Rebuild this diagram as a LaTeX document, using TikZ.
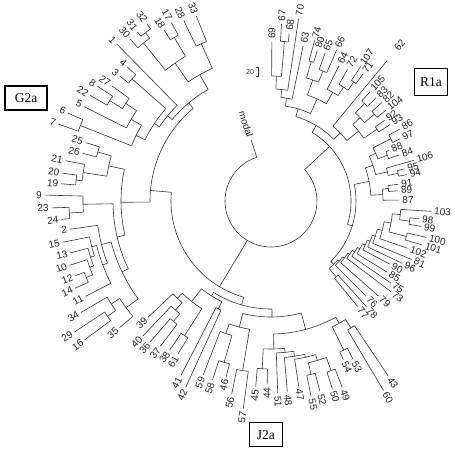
\documentclass[tikz,border=0pt]{standalone}
\usepackage{fontspec}
\setmainfont{Liberation Serif}
\newfontfamily\lblfont{Liberation Sans}
\tikzset{
  br/.style={draw=black!80, line width=0.6pt},
  lab/.style={font=\lblfont\fontsize{10}{10}\selectfont, inner sep=0pt, text=black!85},
  grp/.style={draw=black, line width=1.3pt, font=\fontsize{13.5}{14}\selectfont, inner sep=0pt, minimum height=24pt}
}
\newcommand\nd[5]{%
  \draw[br] (#1:#2pt) -- (#1:#3pt);
  \draw[br] (#4:#3pt) arc[start angle=#4, end angle=#5, radius=#3pt];}
\newcommand\lR[5]{%
  \pgfmathsetmacro\lftip{#3-2.8*#5-3}%
  \draw[br] (#1:#2pt) -- (#1:\lftip pt);
  \node[lab, rotate=#1] (n#4) at (#1:#3pt) {#4};}
\newcommand\lL[5]{%
  \pgfmathsetmacro\lftip{#3-2.8*#5-3}%
  \draw[br] (#1:#2pt) -- (#1:\lftip pt);
  \node[lab, rotate=#1-180] (n#4) at (#1:#3pt) {#4};}
\begin{document}
\begin{tikzpicture}[x=1pt,y=1pt]
\useasboundingbox (0,0) rectangle (455,450);
\fill[white] (0,0) rectangle (455,450);
\node[grp, minimum width=42pt] (g2a) at (26,352) {G2a};
\node[grp, minimum width=33pt, minimum height=27pt] (r1a) at (431,368.3) {R1a};
\node[grp, minimum width=33pt] (j2a) at (265.8,15.3) {J2a};
\begin{scope}[shift={(271,249)}]
% root
\draw[br] (108:46pt) arc[start angle=108, end angle=403, radius=46pt];
\draw[br] (108:46pt) -- (108:64pt);
\node[lab, rotate=-72] (modal) at (108:81pt) {modal};
% ---------- G2a + J2a ----------
\nd{239}{46}{100}{175}{254.2}
\nd{175}{100}{121}{130}{180.5}
\nd{130}{121}{128}{119.4}{140.5}
\nd{119.4}{128}{145}{113.9}{124.8}
\nd{113.9}{145}{172}{112}{115.8}
\lL{112}{172}{208}{33}{2}
\lL{115.8}{172}{209}{28}{2}
\nd{124.8}{145}{168}{120.6}{128.9}
\nd{120.6}{168}{190}{119.2}{122}
\lL{119.2}{190}{213}{17}{2}
\lL{122}{190}{210}{18}{2}
\nd{128.9}{168}{203}{126.7}{131}
\lL{131}{203}{223}{30}{2}
\nd{126.7}{203}{210}{125}{128.3}
\lL{125}{210}{225}{32}{2}
\lL{128.3}{210}{224}{31}{2}
\nd{140.5}{128}{134}{134.5}{146.4}
\lL{134.5}{134}{226}{1}{1}
\nd{146.4}{134}{140}{138.7}{154.1}
\nd{138.7}{140}{185}{137}{140.4}
\lL{137}{185}{202}{4}{1}
\lL{140.4}{185}{202}{3}{1}
\nd{154.1}{140}{150}{149.7}{158.4}
\nd{149.7}{150}{162}{146.1}{153.2}
\lL{153.2}{162}{215}{5}{1}
\nd{146.1}{162}{175}{144.1}{148.1}
\lL{144.1}{175}{205}{27}{2}
\nd{148.1}{175}{190}{146.5}{149.7}
\lL{146.5}{190}{214}{8}{1}
\lL{149.7}{190}{218}{22}{2}
\nd{158.4}{150}{205}{156.6}{160.1}
\lL{156.6}{205}{227}{6}{1}
\lL{160.1}{205}{232}{7}{1}
\nd{180.5}{121}{150}{167.8}{193.2}
\nd{167.8}{150}{166}{164.2}{171.4}
\nd{164.2}{166}{180}{162.5}{165.8}
\lL{162.5}{180}{203}{25}{2}
\lL{165.8}{180}{203}{26}{2}
\nd{171.4}{166}{190}{168.9}{173.9}
\lL{168.9}{190}{218}{21}{2}
\nd{173.9}{190}{196}{172.4}{175.3}
\lL{172.4}{196}{219}{20}{2}
\lL{175.3}{196}{219}{19}{2}
\nd{193.2}{150}{158}{181}{205.4}
\nd{181}{158}{188}{178.5}{183.4}
\lL{178.5}{188}{232}{9}{1}
\nd{183.4}{188}{202}{181.8}{185}
\lL{181.8}{202}{228}{23}{2}
\lL{185}{202}{219}{24}{2}
\nd{205.4}{158}{165}{194.4}{216.4}
\nd{194.4}{165}{175}{188}{200.8}
\lL{188}{175}{209}{2}{1}
\nd{200.8}{175}{180}{194.3}{207.2}
\lL{207.2}{180}{217}{11}{2}
\nd{194.3}{180}{185}{191.2}{197.3}
\lL{191.2}{185}{221}{15}{2}
\nd{197.3}{185}{189}{194.5}{200.1}
\lL{194.5}{189}{216}{13}{2}
\nd{200.1}{189}{193}{197.7}{202.5}
\lL{197.7}{193}{220}{10}{2}
\nd{202.5}{193}{200}{200.9}{204}
\lL{200.9}{200}{218}{12}{2}
\lL{204}{200}{223}{14}{2}
\nd{216.4}{165}{180}{212.8}{219.9}
\lL{219.9}{180}{206}{35}{2}
\nd{212.8}{180}{190}{210.4}{215.2}
\lL{210.4}{190}{229}{34}{2}
\nd{215.2}{190}{200}{213.7}{216.7}
\lL{213.7}{200}{245}{29}{2}
\lL{216.7}{200}{241}{16}{2}
% J side
\nd{254.2}{100}{108}{237.9}{270.5}
\nd{237.9}{108}{112}{231.7}{244}
\nd{231.7}{112}{128}{226.1}{237.3}
\nd{226.1}{128}{135}{223.4}{228.8}
\lL{223.4}{135}{178}{39}{2}
\nd{228.8}{135}{145}{226.5}{231}
\lL{226.5}{145}{195}{40}{2}
\nd{231}{145}{155}{229.4}{232.7}
\lL{229.4}{155}{194}{36}{2}
\lL{232.7}{155}{191}{37}{2}
\nd{237.3}{128}{160}{235.8}{238.7}
\lL{235.8}{160}{189}{38}{2}
\lL{238.7}{160}{188}{61}{2}
\nd{244}{112}{120}{242.7}{245.4}
\lL{242.7}{120}{205}{41}{2}
\lL{245.4}{120}{213}{42}{2}
\nd{270.5}{108}{116}{255.9}{285.1}
\nd{255.9}{116}{130}{251.2}{260.5}
\nd{251.2}{130}{140}{248.7}{253.8}
\lL{248.7}{140}{195}{59}{2}
\nd{253.8}{140}{168}{251.9}{255.7}
\lL{251.9}{168}{197}{58}{2}
\lL{255.7}{168}{190}{46}{2}
\nd{260.5}{130}{172}{258.5}{262.4}
\lL{258.5}{172}{206}{56}{2}
\lL{262.4}{172}{218}{57}{2}
\nd{285.1}{116}{133}{271.1}{299.1}
\nd{271.1}{133}{148}{267}{275.3}
\nd{267}{148}{168}{265.3}{268.8}
\lL{265.3}{168}{195}{45}{2}
\lL{268.8}{168}{192}{44}{2}
\nd{275.3}{148}{152}{272}{278.6}
\lR{272}{152}{201}{51}{2}
\nd{278.6}{152}{157}{274.9}{282.4}
\lR{274.9}{157}{200}{48}{2}
\nd{282.4}{157}{160}{278.5}{286.2}
\lR{278.5}{160}{196}{47}{2}
\nd{286.2}{160}{166}{283}{289.5}
\nd{283}{166}{178}{281.6}{284.4}
\lR{281.6}{178}{208}{55}{2}
\lR{284.4}{178}{205}{52}{2}
\nd{289.5}{166}{180}{288.1}{290.9}
\lR{288.1}{180}{206}{50}{2}
\lR{290.9}{180}{208}{49}{2}
\nd{299.1}{133}{140}{296}{302.2}
\nd{296}{140}{166}{294.5}{297.4}
\lR{294.5}{166}{183}{54}{2}
\lR{297.4}{166}{187}{53}{2}
\nd{302.2}{140}{150}{300.7}{303.8}
\lR{300.7}{150}{229}{60}{2}
\lR{303.8}{150}{219}{43}{2}
% ---------- R1a ----------
\nd{43}{46}{80}{-17}{59.1}
\nd{59.1}{80}{88}{44.5}{73.6}
\nd{73.6}{88}{96}{65.7}{81.4}
\nd{81.4}{96}{104}{78.3}{84.5}
\lR{78.3}{104}{167}{63}{2}
\nd{84.5}{104}{112}{81.4}{87.5}
\lR{81.4}{112}{193}{70}{2}
\nd{87.5}{112}{125}{85.2}{89.7}
\lR{89.7}{125}{168}{69}{2}
\nd{85.2}{125}{160}{83.8}{86.6}
\lR{83.8}{160}{177}{68}{2}
\lR{86.6}{160}{186}{67}{2}
\nd{65.7}{96}{112}{60.4}{71}
\nd{71}{112}{128}{68.2}{73.9}
\nd{73.9}{128}{145}{72.9}{74.8}
\lR{72.9}{145}{166}{80}{2}
\lR{74.8}{145}{175}{74}{2}
\nd{68.2}{128}{140}{66.5}{69.9}
\lR{66.5}{140}{173}{66}{2}
\lR{69.9}{140}{166}{65}{2}
\nd{60.4}{112}{125}{57.5}{63.3}
\lR{63.3}{125}{160}{64}{2}
\nd{57.5}{125}{135}{55.2}{59.8}
\lR{59.8}{135}{161}{72}{2}
\nd{55.2}{135}{145}{54.1}{56.3}
\lR{54.1}{145}{165}{71}{2}
\lR{56.3}{145}{173}{107}{3}
\nd{44.5}{88}{97}{38.6}{50.4}
\draw[br] (50.4:97pt) -- (50.4:182pt);
\node[lab, rotate=50.4] (n62) at (50.4:202pt) {62};
\nd{38.6}{97}{112}{34.1}{43.1}
\nd{43.1}{112}{122}{40}{46.2}
\nd{46.2}{122}{135}{44.5}{47.8}
\lR{44.5}{135}{156}{83}{2}
\lR{47.8}{135}{159}{105}{3}
\nd{40}{122}{135}{38.3}{41.6}
\lR{38.3}{135}{158}{104}{3}
\lR{41.6}{135}{157}{82}{2}
\nd{34.1}{112}{128}{32.7}{35.4}
\lR{32.7}{128}{150}{93}{2}
\lR{35.4}{128}{148}{92}{2}
\nd{-17}{80}{85}{-45.3}{11.3}
\nd{11.3}{85}{100}{3.3}{19.3}
\nd{19.3}{100}{108}{14.1}{24.5}
\nd{24.5}{108}{115}{21.5}{27.5}
\nd{27.5}{115}{135}{25.7}{29.2}
\lR{25.7}{135}{152}{97}{2}
\lR{29.2}{135}{156}{86}{2}
\nd{21.5}{115}{125}{19.8}{23.2}
\lR{19.8}{125}{145}{84}{2}
\lR{23.2}{125}{137}{88}{2}
\nd{14.1}{108}{120}{12.3}{15.9}
\lR{15.9}{120}{160}{106}{3}
\nd{12.3}{120}{130}{11}{13.5}
\lR{11}{130}{147}{94}{2}
\lR{13.5}{130}{146}{95}{2}
\nd{3.3}{100}{112}{0.4}{6.1}
\lR{0.4}{112}{137}{87}{2}
\nd{6.1}{112}{118}{4.6}{7.5}
\lR{4.6}{118}{136}{89}{2}
\lR{7.5}{118}{137}{91}{2}
\nd{-45.3}{85}{89}{-49.3}{-41.4}
\nd{-49.3}{89}{100}{-50.6}{-47.9}
\lR{-50.6}{100}{145}{77}{2}
\lR{-47.9}{100}{151}{78}{2}
\nd{-41.4}{89}{91}{-45}{-37.9}
\lR{-45}{91}{143}{76}{2}
\nd{-37.9}{91}{93}{-41.5}{-34.2}
\lR{-41.5}{93}{152}{79}{2}
\nd{-34.2}{93}{95}{-37.1}{-31.3}
\lR{-37.1}{95}{159}{73}{2}
\nd{-31.3}{95}{98}{-34.4}{-28.3}
\lR{-34.4}{98}{154}{75}{2}
\nd{-28.3}{98}{101}{-31.5}{-25}
\lR{-31.5}{101}{145}{85}{2}
\nd{-25}{101}{104}{-28}{-22.1}
\lR{-28}{104}{143}{90}{2}
\nd{-22.1}{104}{107}{-25.4}{-18.7}
\lR{-25.4}{107}{154}{96}{2}
\nd{-18.7}{107}{110}{-22.6}{-14.8}
\lR{-22.6}{110}{161}{81}{2}
\nd{-14.8}{110}{115}{-19.1}{-10.4}
\lR{-19.1}{115}{156}{102}{3}
\nd{-10.4}{115}{122}{-14.7}{-6}
\nd{-6}{122}{130}{-8.3}{-3.7}
\lR{-3.7}{130}{172}{103}{3}
\nd{-8.3}{130}{140}{-9.6}{-6.9}
\lR{-9.6}{140}{161}{99}{2}
\lR{-6.9}{140}{158}{98}{2}
\nd{-14.7}{122}{140}{-16.2}{-13.2}
\lR{-16.2}{140}{169}{101}{3}
\lR{-13.2}{140}{171}{100}{3}
% stray "20]" mark
\node[lab, font=\lblfont\fontsize{7}{7}\selectfont] (odd20) at (-21,129) {20};
\draw[br] (-15.5,133.5) -- (-13,133.5) -- (-13,124.5) -- (-15.5,124.5);
\end{scope}
\end{tikzpicture}
\end{document}
